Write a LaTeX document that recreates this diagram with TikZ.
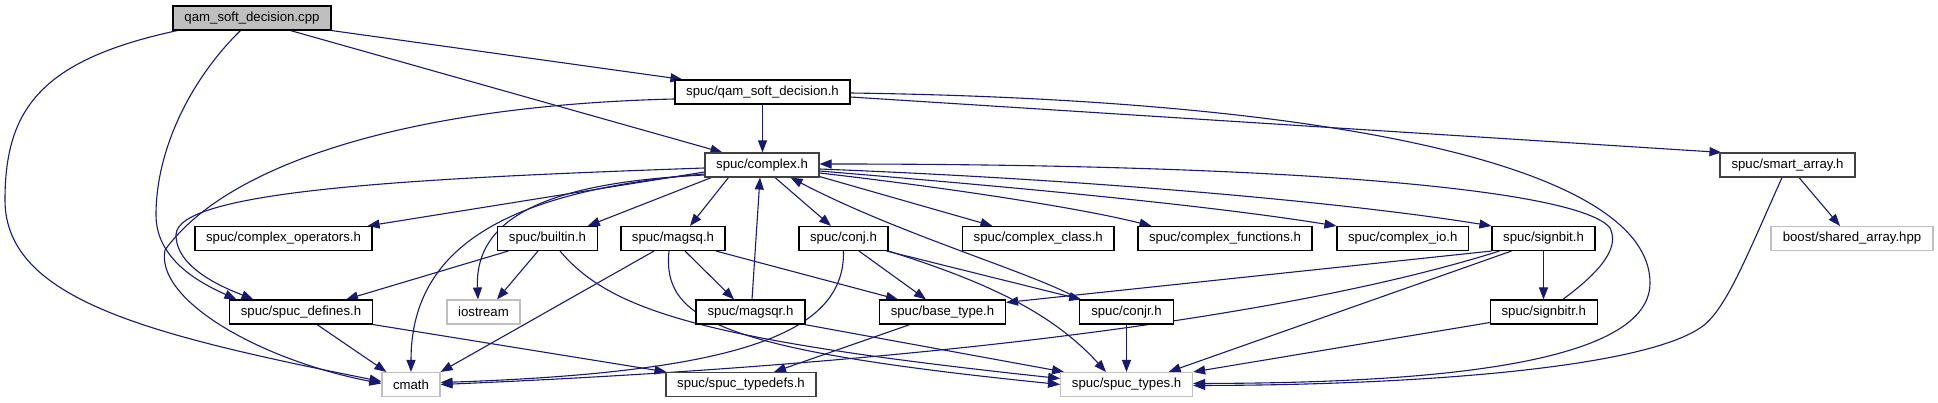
\documentclass[tikz,border=0pt]{standalone}
\usepackage{fontspec}
\setmainfont{Liberation Sans}
\usetikzlibrary{arrows.meta,calc}
\definecolor{edgeblue}{HTML}{191970}
\definecolor{greyseventyfive}{HTML}{BFBFBF}
\definecolor{darkframe}{HTML}{404040}
\pgfdeclarelayer{bg}
\pgfsetlayers{bg,main}
\newcommand\boxfont{\fontsize{13.2}{15}\selectfont}
\begin{document}
\begin{tikzpicture}[x=1pt,y=-1pt,
  box/.style={draw=black, line width=1.1pt, minimum height=24pt, inner sep=0pt, font=\boxfont, fill=white},
  ext/.style={box, draw=greyseventyfive},
  edge/.style={draw=edgeblue, line width=1.1pt, -{Triangle[length=12pt,width=9pt]}}]
\useasboundingbox (0,0) rectangle (1938,403);
% row 0
\node[box,fill=greyseventyfive,minimum width=158] (cpp) at (252,18) {qam\_soft\_decision.cpp};
% row 1
\node[box,minimum width=175] (qamh) at (762.5,92) {spuc/qam\_soft\_decision.h};
% row 2
\node[box,draw=darkframe,minimum width=114] (complex) at (762,165) {spuc/complex.h};
\node[box,draw=darkframe,minimum width=135] (smart) at (1787.5,165) {spuc/smart\_array.h};
% row 3
\node[box,minimum width=177] (ops) at (283.5,238.5) {spuc/complex\_operators.h};
\node[box,minimum width=99.5] (builtin) at (547.5,238.5) {spuc/builtin.h};
\node[box,minimum width=104] (magsq) at (673,238.5) {spuc/magsq.h};
\node[box,minimum width=89] (conj) at (843.5,238.5) {spuc/conj.h};
\node[box,minimum width=151.5] (cclass) at (1038.25,238.5) {spuc/complex\_class.h};
\node[box,minimum width=174] (cfunc) at (1225,238.5) {spuc/complex\_functions.h};
\node[box,minimum width=131.5] (cio) at (1402.75,238.5) {spuc/complex\_io.h};
\node[box,minimum width=103] (signbit) at (1543.5,238.5) {spuc/signbit.h};
\node[ext,minimum width=162] (boost) at (1852,238.5) {boost/shared\_array.hpp};
% row 4
\node[box,minimum width=143] (defines) at (301,312) {spuc/spuc\_defines.h};
\node[ext,minimum width=73] (iostream) at (483.5,312) {iostream};
\node[box,minimum width=109] (magsqr) at (750.5,312) {spuc/magsqr.h};
\node[box,minimum width=126] (basetype) at (942.5,312) {spuc/base\_type.h};
\node[box,minimum width=93.5] (conjr) at (1126.5,312) {spuc/conjr.h};
\node[box,minimum width=107] (signbitr) at (1543.75,312) {spuc/signbitr.h};
% row 5
\node[ext,minimum width=58] (cmath) at (411,384.5) {cmath};
\node[box,draw=darkframe,minimum width=150] (typedefs) at (741,384.5) {spuc/spuc\_typedefs.h};
\node[ext,minimum width=132] (types) at (1126.6,384.5) {spuc/spuc\_types.h};

\begin{pgfonlayer}{bg}
% from cpp
\draw[edge] ($(cpp.south west)+(5,0)$) .. controls (40,60) and (5,110) .. (5,200) .. controls (5,300) and (150,335) .. ($(cmath.west)+(0,-3)$);
\draw[edge] ($(cpp.south west)+(68,0)$) .. controls (190,80) and (156,150) .. (156,215) .. controls (156,262) and (205,285) .. ($(defines.north west)+(7.5,0)$);
\draw[edge] ($(cpp.south west)+(118,0)$) -- ($(complex.north west)+(18,0)$);
\draw[edge] (cpp.south east) -- ($(qamh.north west)+(8,0)$);
% from qam_soft_decision.h
\draw[edge] (qamh.south) -- (qamh.south |- complex.north);
\draw[edge] ($(qamh.west)+(0,7)$) .. controls (420,105) and (230,160) .. (165,250) .. controls (155,300) and (260,360) .. ($(cmath.west)+(0,-1)$);
\draw[edge] ($(qamh.east)+(0,5)$) -- ($(smart.north west)+(2,0)$);
\draw[edge] ($(qamh.east)+(0,1)$) .. controls (1350,100) and (1650,170) .. (1650,283) .. controls (1650,370) and (1400,383) .. ($(types.east)+(0,-1)$);
% from smart_array.h
\draw[edge] ($(smart.south)+(11.5,0)$) -- ($(boost.north)+(-12,0)$);
\draw[edge] ($(smart.south)+(-5.5,0)$) .. controls (1745,260) and (1725,312) .. (1700,328) .. controls (1640,368) and (1420,385) .. ($(types.east)+(0,1)$);
% from complex.h
\draw[edge] ($(complex.west)+(0,3)$) .. controls (420,178) and (176,190) .. (176,235) .. controls (176,270) and (230,290) .. ($(defines.north west)+(24.5,0)$);
\draw[edge] ($(complex.west)+(0,7)$) -- ($(ops.north east)+(-5,0)$);
\draw[edge] ($(complex.west)+(0,9)$) .. controls (520,190) and (411,240) .. (cmath.north);
\draw[edge] ($(complex.west)+(0,10)$) .. controls (560,182) and (474,212) .. ($(iostream.north)+(-5.5,0)$);
\draw[edge] ($(complex.south west)+(7,0)$) -- ($(builtin.north east)+(-10,0)$);
\draw[edge] ($(complex.south west)+(24,0)$) -- ($(magsq.north)+(17,0)$);
\draw[edge] ($(complex.south)+(13,0)$) -- ($(conj.north)+(-12.5,0)$);
\draw[edge] ($(complex.south east)+(0,-1)$) -- ($(cclass.north west)+(30.5,0)$);
\draw[edge] ($(complex.east)+(0,8)$) .. controls (950,188) and (1080,208) .. ($(cfunc.north west)+(14,0)$);
\draw[edge] ($(complex.east)+(0,6)$) .. controls (1000,186) and (1200,204) .. (cio.north west);
\draw[edge] ($(complex.east)+(0,4)$) .. controls (1100,180) and (1350,203) .. (signbit.north west);
% into complex.h
\draw[edge] ($(magsqr.north)+(1.5,0)$) -- ($(complex.south)+(-2,0)$);
\draw[edge] (conjr.north west) .. controls (1040,275) and (900,235) .. ($(complex.south east)+(-29,0)$);
\draw[edge] ($(signbitr.north)+(19,0)$) .. controls (1600,272) and (1620,248) .. (1610,228) .. controls (1580,190) and (1300,164) .. ($(complex.east)+(0,-1)$);
% from builtin.h
\draw[edge] ($(builtin.south west)+(11,0)$) -- ($(defines.north east)+(-27,0)$);
\draw[edge] ($(builtin.south)+(-9.5,0)$) -- ($(iostream.north)+(13.5,0)$);
\draw[edge] ($(builtin.south)+(12.5,0)$) .. controls (610,310) and (700,340) .. ($(types.west)+(0,-6)$);
% from magsq.h
\draw[edge] ($(magsq.south)+(-19,0)$) -- (cmath.north east);
\draw[edge] ($(magsq.south)+(12,0)$) -- ($(magsqr.north)+(-16.5,0)$);
\draw[edge] ($(magsq.south)+(43,0)$) -- ($(basetype.north)+(-44.5,0)$);
\draw[edge] ($(magsq.south)+(-4,0)$) .. controls (662,320) and (720,350) .. (types.west);
% from magsqr.h
\draw[edge] ($(magsqr.south east)+(-1,0)$) -- ($(types.north west)+(4,0)$);
% from conj.h
\draw[edge] (conj.south) .. controls (845,330) and (750,372) .. ($(cmath.east)+(0,-2)$);
\draw[edge] ($(conj.south)+(15.5,0)$) -- ($(basetype.north)+(-16.5,0)$);
\draw[edge] ($(conj.south east)+(-2,0)$) -- ($(conjr.north west)+(2,0)$);
\draw[edge] (conj.south east) .. controls (980,280) and (1050,310) .. ($(types.north)+(-20.6,0)$);
% from base_type.h
\draw[edge] ($(basetype.south)+(-32.5,0)$) -- ($(typedefs.north)+(33,0)$);
% from conjr.h
\draw[edge] (conjr.south) -- (conjr.south |- types.north);
% from signbit.h
\draw[edge] (signbit.south) -- (signbit.south |- signbitr.north);
\draw[edge] (signbit.south west) -- ($(basetype.north east)+(0,3)$);
\draw[edge] ($(signbit.south west)+(8,0)$) .. controls (1280,320) and (900,365) .. (cmath.east);
\draw[edge] ($(signbit.south west)+(20,0)$) -- ($(types.north east)+(-24.5,0)$);
% from signbitr.h
\draw[edge] ($(signbitr.south west)+(0,-2)$) -- (types.north east);
% from spuc_defines.h
\draw[edge] ($(defines.south)+(16,0)$) -- ($(cmath.north west)+(5,0)$);
\draw[edge] (defines.south east) -- ($(typedefs.north west)+(1,0)$);
\end{pgfonlayer}
\end{tikzpicture}
\end{document}
